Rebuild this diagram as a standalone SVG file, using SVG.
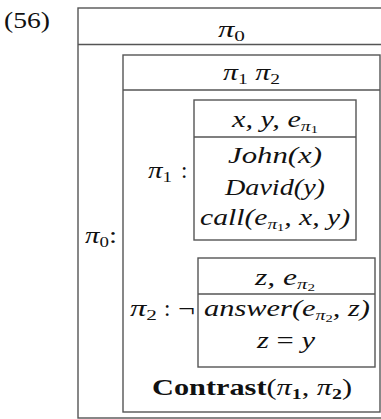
<svg xmlns="http://www.w3.org/2000/svg" width="381" height="419" viewBox="0 0 381 419">
<style>
.box{fill:none;stroke:#555;stroke-width:1.4}
.ln{stroke:#555;stroke-width:1.4}
.m{font-family:"Liberation Serif","Times New Roman",serif;font-style:italic;font-size:23px;fill:#111}
.r{font-family:"Liberation Serif","Times New Roman",serif;font-size:23px;fill:#111}
.s{font-size:15px}
.ss{font-size:11px;font-style:normal}
.n{font-style:normal}
</style>
<rect width="381" height="419" fill="#fff"/>
<text class="r" x="4" y="28" font-size="25" textLength="46" lengthAdjust="spacingAndGlyphs">(56)</text>
<g id="outer">
<rect class="box" x="78" y="8" width="310" height="410"/>
<line class="ln" x1="78" y1="44.5" x2="381" y2="44.5"/>
<text class="m" x="218" y="37" textLength="27" lengthAdjust="spacingAndGlyphs">π<tspan class="s n" dy="4">0</tspan></text>
<text class="m" x="85" y="243" textLength="32" lengthAdjust="spacingAndGlyphs">π<tspan class="s n" dy="4">0</tspan><tspan class="n" dy="-4">:</tspan></text>
</g>
<g id="inner">
<rect class="box" x="123" y="55" width="257" height="357"/>
<line class="ln" x1="123" y1="90" x2="380" y2="90"/>
<text class="m" x="223" y="80" textLength="57" lengthAdjust="spacingAndGlyphs">π<tspan class="s n" dy="4">1</tspan><tspan dy="-4"> π</tspan><tspan class="s n" dy="4">2</tspan></text>
<text class="m" x="148" y="178" textLength="24" lengthAdjust="spacingAndGlyphs">π<tspan class="s n" dy="4">1</tspan></text>
<text class="r" x="181" y="178">:</text>
<text class="m" x="130" y="316" textLength="27" lengthAdjust="spacingAndGlyphs">π<tspan class="s n" dy="4">2</tspan></text>
<text class="r" x="164" y="316">:</text>
<text class="r" x="178" y="316" textLength="17" lengthAdjust="spacingAndGlyphs">¬</text>
<text class="r" x="252" y="395" text-anchor="middle" textLength="200" lengthAdjust="spacingAndGlyphs"><tspan font-weight="bold">Contrast</tspan>(<tspan font-style="italic">π</tspan><tspan class="s" font-weight="bold" dy="4">1</tspan><tspan dy="-4">, </tspan><tspan font-style="italic">π</tspan><tspan class="s" font-weight="bold" dy="4">2</tspan><tspan dy="-4">)</tspan></text>
</g>
<g id="pi1-box">
<rect class="box" x="194" y="100" width="162" height="140"/>
<line class="ln" x1="194" y1="137" x2="356" y2="137"/>
<text class="m" x="275" y="127" text-anchor="middle" textLength="86" lengthAdjust="spacingAndGlyphs">x, y, e<tspan class="s" dy="4">π</tspan><tspan class="ss" dy="2">1</tspan></text>
<text class="m" x="275" y="163" text-anchor="middle" textLength="94" lengthAdjust="spacingAndGlyphs">John(x)</text>
<text class="m" x="275" y="195" text-anchor="middle" textLength="100" lengthAdjust="spacingAndGlyphs">David(y)</text>
<text class="m" x="275" y="225" text-anchor="middle" textLength="150" lengthAdjust="spacingAndGlyphs">call(e<tspan class="s" dy="4">π</tspan><tspan class="ss" dy="2">1</tspan><tspan dy="-6">, x, y)</tspan></text>
</g>
<g id="pi2-box">
<rect class="box" x="198" y="258" width="177" height="109"/>
<line class="ln" x1="198" y1="294" x2="375" y2="294"/>
<text class="m" x="285" y="285" text-anchor="middle" textLength="60" lengthAdjust="spacingAndGlyphs">z, e<tspan class="s" dy="4">π</tspan><tspan class="ss" dy="2">2</tspan></text>
<text class="m" x="287" y="316" text-anchor="middle" textLength="166" lengthAdjust="spacingAndGlyphs">answer(e<tspan class="s" dy="4">π</tspan><tspan class="ss" dy="2">2</tspan><tspan dy="-6">, z)</tspan></text>
<text class="m" x="286" y="348" text-anchor="middle" textLength="58" lengthAdjust="spacingAndGlyphs">z <tspan class="n">=</tspan> y</text>
</g>
</svg>
